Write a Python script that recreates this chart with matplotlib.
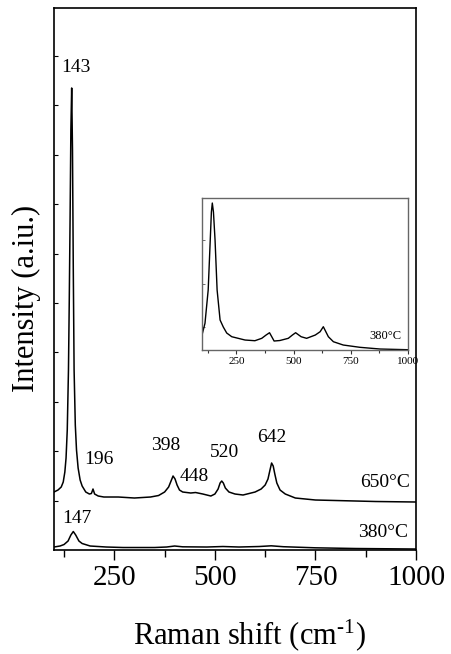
import matplotlib
matplotlib.use("Agg")
import matplotlib.pyplot as plt
import numpy as np

plt.rcParams['font.family'] = ['Liberation Serif', 'DejaVu Serif']
plt.rcParams['mathtext.fontset'] = 'custom'
plt.rcParams['mathtext.rm'] = 'Liberation Serif'
plt.rcParams['mathtext.it'] = 'Liberation Serif:italic'

# 650 °C spectrum (offset upward), Raman shift (cm-1) vs intensity (a.u.)
x650 = [100, 110, 118, 123, 127, 130, 133, 136, 138, 140, 142, 144, 146, 148, 150, 153, 156,
        160, 165, 170, 179, 188, 193, 197, 201, 210, 224, 260, 300, 340, 360, 375, 385, 391,
        396, 401, 406, 412, 420, 440, 452, 470, 490, 500, 508, 513, 517, 521, 526, 535, 550,
        570, 600, 615, 625, 632, 637, 641, 645, 649, 654, 662, 675, 700, 750, 800, 900, 1000]
y650 = [58, 60, 63, 68, 78, 92, 120, 180, 250, 330, 420, 462, 400, 280, 180, 125, 100,
        82, 70, 64, 58, 56, 56.5, 61, 56, 54, 53, 53, 52, 53, 54.5, 58, 63, 69,
        74, 71, 65, 60, 58, 57, 57.5, 56, 54, 56, 61, 67, 69, 67, 62, 58, 56,
        55, 58, 61, 65, 71, 80, 87, 84, 76, 67, 60, 56, 52, 50, 49.5, 48.5, 48]

# 380 °C spectrum
x380 = [100, 115, 125, 135, 142, 148, 154, 162, 170, 190, 230, 272, 350, 380, 400, 420,
        480, 520, 560, 610, 640, 670, 750, 850, 1000]
y380 = [3, 4, 5.5, 9, 15, 18.5, 15, 9, 6.5, 4, 3, 2.5, 2.5, 3, 4, 3.2,
        3, 3.5, 3, 3.5, 4.2, 3.3, 2.2, 1.5, 1]

# Inset: 380 °C spectrum magnified
xin = [100, 113, 127, 136, 141, 145, 150, 157, 166, 179, 193, 208, 230, 288, 331, 361, 380,
       395, 403, 415, 440, 477, 495, 509, 533, 557, 595, 616, 630, 652, 674, 717, 790, 878, 1000]
yin = [15, 26.7, 60, 110, 138, 147, 138, 110, 60, 30, 23, 17, 13.3, 10, 9.3, 11.7, 15,
       17.3, 14, 9, 9.5, 11.7, 15, 17.3, 13.3, 11.7, 15, 18.3, 23.3, 13.3, 8.3, 5, 2.7, 1, 0.3]

peak_labels = ['143', '196', '398', '448', '520', '642', '147']
peak_lx = [154.7, 212, 378, 448, 523, 642, 157]
peak_ly = [482, 91, 105, 74, 98, 113, 32]

fig = plt.figure(figsize=(4.51, 6.54), dpi=100)
ax = fig.add_axes([0.1197, 0.159, 0.8027, 0.8288])
ax.plot(x650, y650, color='black', lw=1.1)
ax.plot(x380, y380, color='black', lw=1.1)
ax.set_xlim(100, 1000)
ax.set_ylim(0, 542)
ax.set_xticks([250, 500, 750, 1000])
ax.set_xticks([125, 375, 625, 875], minor=True)
ax.set_yticks(np.arange(49.4, 542, 49.4))
ax.set_yticklabels([])
ax.tick_params(axis='x', which='major', direction='out', length=7, width=1, labelsize=21, pad=4,
               top=False)
ax.tick_params(axis='x', which='minor', direction='out', length=5, width=1, top=False)
ax.tick_params(axis='y', which='both', direction='in', length=3, width=0.8, right=False)
for s in ax.spines.values():
    s.set_linewidth(1.2)

for t, lx, ly in zip(peak_labels, peak_lx, peak_ly):
    ax.text(lx, ly, t, ha='center', va='center', fontsize=14)
ax.text(985, 68, '650°C', ha='right', va='center', fontsize=14)
ax.text(980, 18, '380°C', ha='right', va='center', fontsize=14)

ax.set_xlabel('Raman shift (cm$^{\\text{-1}}$)', fontsize=22)
ax.xaxis.set_label_coords(0.541, -0.124)
ax.set_ylabel('Intensity (a.iu.)', fontsize=22)
ax.yaxis.set_label_coords(-0.037, 0.465)

# inset
ins = fig.add_axes([0.4479, 0.4648, 0.4568, 0.2324])
ins.plot(xin, yin, color='black', lw=1.0)
ins.set_xlim(100, 1000)
ins.set_ylim(0, 152)
ins.set_xticks([250, 500, 750, 1000])
ins.set_xticks([125, 375, 625, 875], minor=True)
ins.set_yticks([23, 66.5, 110])
ins.set_yticklabels([])
ins.tick_params(axis='x', which='major', direction='out', length=3, width=0.8, labelsize=8, pad=2,
                top=False, colors='#333333', labelcolor='black')
ins.tick_params(axis='x', which='minor', direction='out', length=2, width=0.8, top=False,
                colors='#333333')
ins.tick_params(axis='y', which='both', direction='in', length=2, width=0.6, right=False,
                colors='#555555')
for s in ins.spines.values():
    s.set_linewidth(1.0)
    s.set_color('#666666')
ins.text(0.97, 0.09, '380°C', transform=ins.transAxes, ha='right', va='center', fontsize=9)

fig.savefig('out.png', dpi=100)
